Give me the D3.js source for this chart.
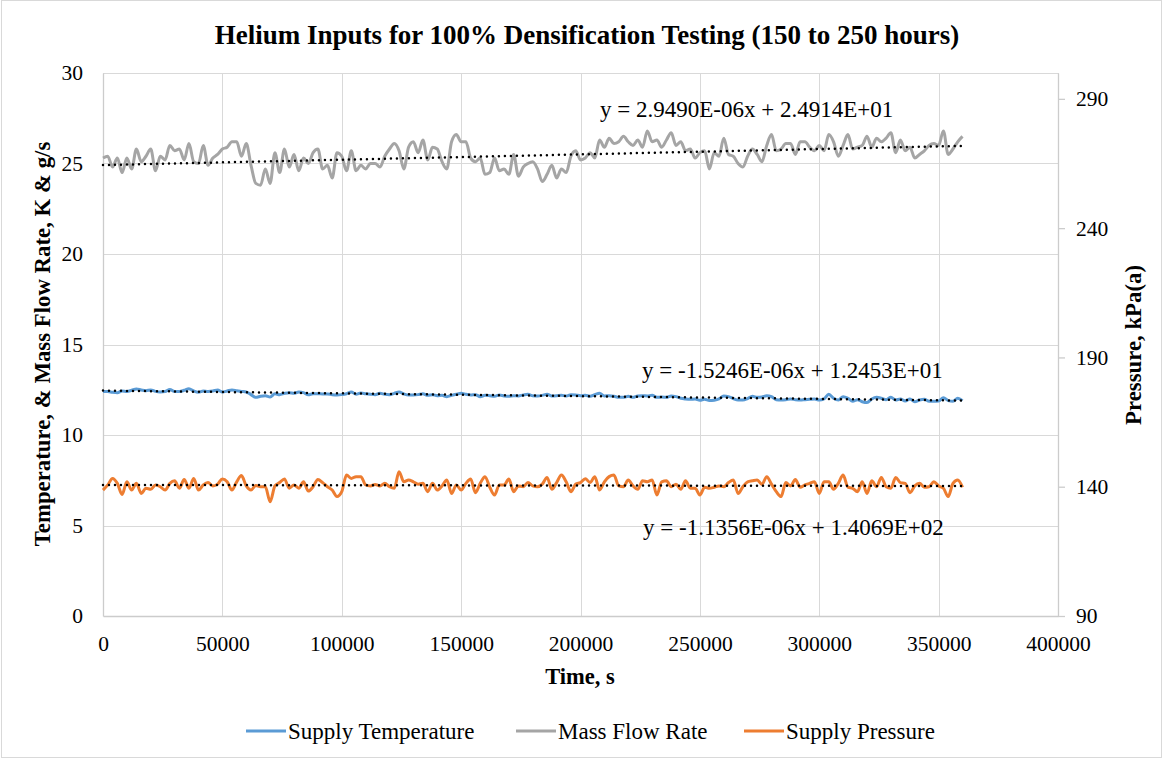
<!DOCTYPE html>
<html>
<head>
<meta charset="utf-8">
<script src="https://cdn.jsdelivr.net/npm/d3@7"></script>
<style>
  body { margin: 0; background: #fff; }
  svg text { font-family: "Liberation Serif", "Times New Roman", serif; fill: #000; }
</style>
</head>
<body>
<div id="plot"></div>
<script>
// time stamps, s (one reading every 2000 s)
var timeS = d3.range(0, 362000, 2000);

// Supply Temperature, K (left axis)
var supplyTemp = [
  12.40, 12.40, 12.36, 12.34, 12.43, 12.41, 12.47, 12.54, 12.49, 12.45,
  12.49, 12.41, 12.38, 12.40, 12.52, 12.40, 12.40, 12.47, 12.56, 12.43,
  12.36, 12.43, 12.41, 12.43, 12.49, 12.38, 12.43, 12.49, 12.45, 12.41,
  12.38, 12.23, 12.08, 12.14, 12.17, 12.10, 12.28, 12.23, 12.30, 12.34,
  12.30, 12.38, 12.34, 12.23, 12.28, 12.28, 12.27, 12.27, 12.23, 12.21,
  12.23, 12.28, 12.38, 12.25, 12.32, 12.28, 12.25, 12.23, 12.30, 12.25,
  12.23, 12.30, 12.38, 12.27, 12.21, 12.21, 12.23, 12.28, 12.19,
  12.23, 12.17, 12.19, 12.12, 12.19, 12.25, 12.30, 12.25, 12.21, 12.23,
  12.12, 12.19, 12.17, 12.14, 12.21, 12.16, 12.14, 12.17, 12.16, 12.21,
  12.25, 12.17, 12.16, 12.19, 12.25, 12.16, 12.17, 12.19, 12.16, 12.23,
  12.21, 12.17, 12.19, 12.14, 12.23, 12.30, 12.16, 12.17, 12.14, 12.08,
  12.08, 12.14, 12.08, 12.16, 12.17, 12.16, 12.19, 12.08, 12.10, 12.08,
  12.16, 12.12, 12.03, 11.99, 11.97, 11.99, 11.92, 11.97, 11.90, 11.92,
  11.99, 12.16, 12.12, 12.01, 11.93, 11.93, 12.01,
  12.14, 12.08, 12.10, 12.17, 12.12, 11.95, 11.93, 11.95, 11.99, 11.95,
  11.93, 11.95, 11.97, 11.99, 11.93, 11.99, 12.25, 12.03, 11.93, 12.12,
  12.03, 11.86, 11.95, 11.84, 11.79, 11.99, 12.08, 12.03, 11.95, 12.08,
  11.93, 11.99, 11.88, 11.99, 11.84, 11.93, 11.97, 11.86, 11.86, 11.88,
  12.06, 11.90, 11.86, 12.03, 11.90
];

// Mass Flow Rate, g/s (left axis)
var massFlow = [
  25.3, 25.4, 24.8, 25.3, 24.5, 25.3, 24.7, 25.8, 25.1, 25.4,
  25.8, 24.6, 25.4, 25.2, 26.0, 25.7, 25.8, 25.2, 26.1, 25.1,
  25.0, 26.0, 24.9, 25.3, 25.5, 25.8, 25.9, 26.2, 26.2, 25.4,
  26.1, 24.9, 23.9, 23.8, 24.7, 23.9, 25.6, 24.5, 25.8, 24.8,
  25.5, 24.6, 25.3, 25.0, 25.6, 25.8, 24.7, 24.9, 24.2, 25.6,
  25.4, 24.6, 25.7, 24.6, 24.9, 24.7, 25.0, 25.0, 24.8, 25.4,
  25.8, 26.1, 25.7, 24.7, 25.9, 26.2, 25.6, 26.3, 25.2,
  25.9, 25.8, 25.1, 24.7, 26.2, 26.6, 26.2, 26.2, 25.3, 25.1,
  25.3, 24.4, 24.5, 25.3, 24.6, 24.7, 24.4, 25.5, 24.3, 24.8,
  25.0, 25.1, 24.7, 24.0, 24.4, 24.9, 24.2, 24.7, 24.5, 25.4,
  25.7, 25.2, 25.3, 25.6, 25.3, 26.3, 25.9, 26.4, 26.1, 26.2,
  26.5, 26.2, 26.0, 26.3, 25.9, 26.8, 26.2, 26.3, 25.9, 26.3,
  26.7, 26.0, 26.2, 25.7, 25.8, 25.3, 25.6, 25.7, 24.7, 25.6,
  25.4, 26.4, 25.5, 25.4, 25.0, 24.8, 25.4,
  25.8, 25.5, 25.1, 26.0, 26.6, 25.7, 25.8, 26.1, 26.1, 25.5,
  26.2, 26.2, 25.9, 25.7, 26.0, 25.7, 26.6, 26.2, 25.4, 26.0,
  26.6, 25.8, 25.9, 26.0, 26.5, 25.9, 26.4, 26.2, 26.4, 26.7,
  25.6, 26.3, 25.7, 25.9, 25.3, 25.5, 25.7, 26.0, 26.1, 26.0,
  26.8, 25.5, 25.8, 26.2, 26.5
];

// Supply Pressure, kPa(a) (right axis)
var supplyPress = [
  138.7, 140.7, 143.2, 141.3, 137.0, 141.9, 138.7, 141.3, 137.4, 139.4,
  139.0, 140.7, 140.0, 138.7, 141.3, 142.3, 139.4, 142.8, 139.4, 143.2,
  138.7, 140.7, 141.6, 140.3, 141.0, 143.0, 141.9, 138.7, 141.9, 144.3,
  140.3, 138.7, 140.5, 140.0, 140.0, 134.2, 140.3, 141.6, 143.0, 139.4,
  140.7, 139.4, 141.9, 138.3, 140.0, 142.8, 141.6, 140.0, 138.7, 136.2,
  138.1, 144.5, 143.2, 143.9, 143.9, 140.7, 140.3, 140.9, 140.3, 141.3,
  140.0, 139.4, 145.8, 141.9, 142.6, 141.9, 141.0, 141.3, 138.1,
  141.3, 138.7, 140.3, 142.6, 137.4, 140.7, 138.7, 141.3, 143.0, 137.7,
  141.3, 143.9, 139.8, 136.8, 140.7, 140.7, 143.0, 138.1, 140.3, 140.0,
  141.6, 140.3, 140.0, 141.0, 143.6, 139.0, 141.6, 144.5, 141.9, 138.1,
  141.0, 141.6, 143.1, 141.6, 143.9, 138.7, 141.9, 143.9, 144.5, 140.3,
  140.0, 142.6, 140.3, 139.0, 142.3, 141.9, 142.6, 136.8, 141.9, 142.3,
  140.0, 141.0, 139.0, 142.3, 139.4, 139.4, 136.8, 139.8, 139.4, 139.8,
  140.3, 140.0, 141.6, 142.6, 137.4, 140.0, 141.9,
  142.3, 142.6, 140.9, 143.9, 141.0, 138.1, 136.2, 141.6, 140.3, 142.8,
  139.8, 140.7, 141.3, 141.9, 137.4, 141.9, 141.9, 139.0, 141.3, 144.5,
  139.8, 139.4, 138.1, 141.9, 137.4, 142.3, 140.0, 143.6, 140.0, 139.4,
  143.6, 141.6, 141.3, 137.7, 140.3, 141.3, 139.8, 140.0, 141.9, 140.3,
  139.4, 136.2, 141.3, 142.6, 139.8
];

// linear trendlines as printed on the chart: [slope, intercept]
var trendTemp = [-1.5246e-06, 12.453];
var trendFlow = [2.9490e-06, 24.914];
var trendPress = [-1.1356e-06, 140.69];
var trendLabels = [
  "y = 2.9490E-06x + 2.4914E+01",
  "y = -1.5246E-06x + 1.2453E+01",
  "y = -1.1356E-06x + 1.4069E+02"
];

var xTicks = [0, 50000, 100000, 150000, 200000, 250000, 300000, 350000, 400000];
var leftTicks = [0, 5, 10, 15, 20, 25, 30];
var rightTicks = [90, 140, 190, 240, 290];
var seriesNames = ["Supply Temperature", "Mass Flow Rate", "Supply Pressure"];
var seriesColors = ["#5b9bd5", "#a5a5a5", "#ed7d31"];

function drawChart() {
  var W = 1163, H = 759;
  var plotL = 103, plotR = 1058, plotT = 73, plotB = 616;

  var svg = d3.select("#plot").append("svg")
    .attr("width", W)
    .attr("height", H);

  svg.append("rect")
    .attr("x", 1.5).attr("y", 0.5)
    .attr("width", W - 3).attr("height", H - 2)
    .attr("fill", "#fff")
    .attr("stroke", "#d9d9d9");

  var x = d3.scaleLinear().domain([0, 400000]).range([plotL, plotR]);
  var yL = d3.scaleLinear().domain([0, 30]).range([plotB, plotT]);
  var yR = d3.scaleLinear().domain([90, 300]).range([plotB, plotT]);

  // gridlines
  svg.append("g")
    .selectAll("line")
    .data(leftTicks.slice(1))
    .enter().append("line")
    .attr("x1", plotL).attr("x2", plotR)
    .attr("y1", function(d) { return Math.round(yL(d)) + 0.5; })
    .attr("y2", function(d) { return Math.round(yL(d)) + 0.5; })
    .attr("stroke", "#d9d9d9");

  svg.append("g")
    .selectAll("line")
    .data(xTicks.slice(1))
    .enter().append("line")
    .attr("y1", plotT).attr("y2", plotB)
    .attr("x1", function(d) { return Math.round(x(d)) + 0.5; })
    .attr("x2", function(d) { return Math.round(x(d)) + 0.5; })
    .attr("stroke", "#d9d9d9");

  // axes
  var fs = 21.5;

  var gL = svg.append("g")
    .attr("transform", "translate(" + plotL + ",0)")
    .call(d3.axisLeft(yL).tickValues(leftTicks).tickSize(0).tickPadding(20));
  gL.select(".domain").attr("stroke", "#cccccc").attr("stroke-width", 1.3);
  gL.selectAll("text").style("font-size", fs + "px");

  var gB = svg.append("g")
    .attr("transform", "translate(0," + plotB + ")")
    .call(d3.axisBottom(x).tickValues(xTicks).tickSize(0).tickPadding(20).tickFormat(d3.format("d")));
  gB.select(".domain").attr("stroke", "#cccccc").attr("stroke-width", 1.3);
  gB.selectAll("text").style("font-size", fs + "px");

  var gR = svg.append("g")
    .attr("transform", "translate(" + plotR + ",0)")
    .call(d3.axisRight(yR).tickValues(rightTicks).tickSize(7).tickSizeOuter(0).tickPadding(11));
  gR.select(".domain").attr("stroke", "#cccccc").attr("stroke-width", 1.3);
  gR.selectAll(".tick line").attr("stroke", "#cccccc").attr("stroke-width", 1.3);
  gR.selectAll("text").style("font-size", fs + "px");

  // series
  function drawSeries(values, yScale, color) {
    var line = d3.line()
      .x(function(d, i) { return x(timeS[i]); })
      .y(function(d) { return yScale(d); })
      .curve(d3.curveMonotoneX);
    svg.append("path")
      .datum(values)
      .attr("d", line)
      .attr("fill", "none")
      .attr("stroke", color)
      .attr("stroke-width", 3)
      .attr("stroke-linejoin", "round");
  }
  drawSeries(supplyTemp, yL, seriesColors[0]);
  drawSeries(massFlow, yL, seriesColors[1]);
  drawSeries(supplyPress, yR, seriesColors[2]);

  // trendlines
  function drawTrend(coef, yScale) {
    var t0 = timeS[0], t1 = timeS[timeS.length - 1];
    svg.append("line")
      .attr("x1", x(t0)).attr("x2", x(t1))
      .attr("y1", yScale(coef[0] * t0 + coef[1]))
      .attr("y2", yScale(coef[0] * t1 + coef[1]))
      .attr("stroke", "#000")
      .attr("stroke-width", 2.5)
      .attr("stroke-linecap", "round")
      .attr("stroke-dasharray", "0,6");
  }
  drawTrend(trendTemp, yL);
  drawTrend(trendFlow, yL);
  drawTrend(trendPress, yR);

  var eqPos = [[600, 117], [642, 378], [643, 535]];
  svg.append("g")
    .selectAll("text")
    .data(trendLabels)
    .enter().append("text")
    .attr("x", function(d, i) { return eqPos[i][0]; })
    .attr("y", function(d, i) { return eqPos[i][1]; })
    .style("font-size", "23px")
    .text(function(d) { return d; });

  // titles
  svg.append("text")
    .attr("x", 587).attr("y", 44)
    .attr("text-anchor", "middle")
    .style("font-size", "27px").style("font-weight", "bold")
    .text("Helium Inputs for 100% Densification Testing (150 to 250 hours)");

  svg.append("text")
    .attr("x", 580).attr("y", 684)
    .attr("text-anchor", "middle")
    .style("font-size", "22.5px").style("font-weight", "bold")
    .text("Time, s");

  svg.append("text")
    .attr("transform", "translate(50,344) rotate(-90)")
    .attr("text-anchor", "middle")
    .style("font-size", "22.8px").style("font-weight", "bold")
    .text("Temperature, & Mass Flow Rate, K & g/s");

  svg.append("text")
    .attr("transform", "translate(1141,345) rotate(-90)")
    .attr("text-anchor", "middle")
    .style("font-size", "22.8px").style("font-weight", "bold")
    .text("Pressure, kPa(a)");

  // legend
  var legX = [246, 516, 744];
  var leg = svg.append("g")
    .selectAll("g")
    .data(seriesNames)
    .enter().append("g")
    .attr("transform", function(d, i) { return "translate(" + legX[i] + ",731)"; });
  leg.append("line")
    .attr("x1", 0).attr("x2", 40)
    .attr("stroke", function(d, i) { return seriesColors[i]; })
    .attr("stroke-width", 3);
  leg.append("text")
    .attr("x", 42).attr("y", 8)
    .style("font-size", "23px")
    .text(function(d) { return d; });
}

drawChart();
</script>
</body>
</html>
